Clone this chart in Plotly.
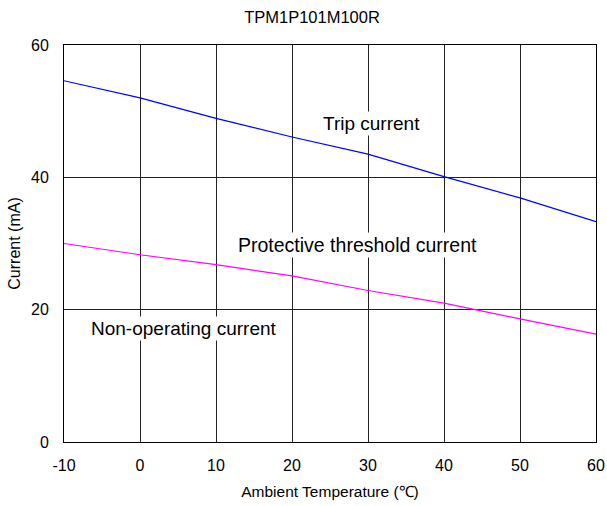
import plotly.graph_objects as go

temps = [-10, 0, 10, 20, 30, 40, 50, 60]
trip = [54.6, 52.0, 48.9, 46.1, 43.5, 40.1, 36.9, 33.3]
nonop = [30.0, 28.3, 26.8, 25.1, 22.9, 21.0, 18.6, 16.3]
x_ticks = [-10, 0, 10, 20, 30, 40, 50, 60]
x_labels = ["-10", "0", "10", "20", "30", "40", "50", "60"]
y_ticks = [0, 20, 40, 60]

font = "Liberation Sans, Arial, sans-serif"

fig = go.Figure()
fig.add_trace(go.Scatter(x=temps, y=trip, mode="lines",
                         line=dict(color="#0000FF", width=1.2), showlegend=False))
fig.add_trace(go.Scatter(x=temps, y=nonop, mode="lines",
                         line=dict(color="#FF00FF", width=1.2), showlegend=False))

ann_font = dict(family=font, size=19, color="black")
fig.add_annotation(x=30.5, y=48.2, text="Trip current", showarrow=False,
                   font=ann_font, bgcolor="white")
fig.add_annotation(x=28.6, y=29.8, text="Protective threshold current", showarrow=False,
                   font=dict(family=font, size=19.5, color="black"), bgcolor="white")
fig.add_annotation(x=5.8, y=17.2, text="Non-operating current", showarrow=False,
                   font=ann_font, bgcolor="white")

fig.update_layout(
    width=607, height=506,
    margin=dict(l=64, r=11, t=45, b=64, autoexpand=False),
    paper_bgcolor="white", plot_bgcolor="white",
    font=dict(family=font, size=16, color="black"),
    title=dict(text="TPM1P101M100R", x=0.514, xanchor="center", y=0.966, yanchor="middle",
               font=dict(family=font, size=16.5, color="black")),
    xaxis=dict(range=[-10, 60], tickvals=x_ticks, ticktext=x_labels, showgrid=True,
               gridcolor="#222", automargin=False, tickfont=dict(size=16),
               gridwidth=1, showline=True, linecolor="black", linewidth=1, mirror=True,
               zeroline=False, ticks="", ticklabelstandoff=9,
               title=dict(text="Ambient Temperature (℃)", font=dict(family=font, size=15.5),
                          standoff=12)),
    yaxis=dict(range=[0, 60], tickvals=y_ticks, showgrid=True, gridcolor="#222",
               gridwidth=1, showline=True, linecolor="black", linewidth=1, mirror=True,
               zeroline=False, ticks="", ticklabelstandoff=11, automargin=False,
               tickfont=dict(size=16),
               title=dict(text="Current (mA)", font=dict(family=font, size=16),
                          standoff=6)),
)

fig.write_html("out.html")
